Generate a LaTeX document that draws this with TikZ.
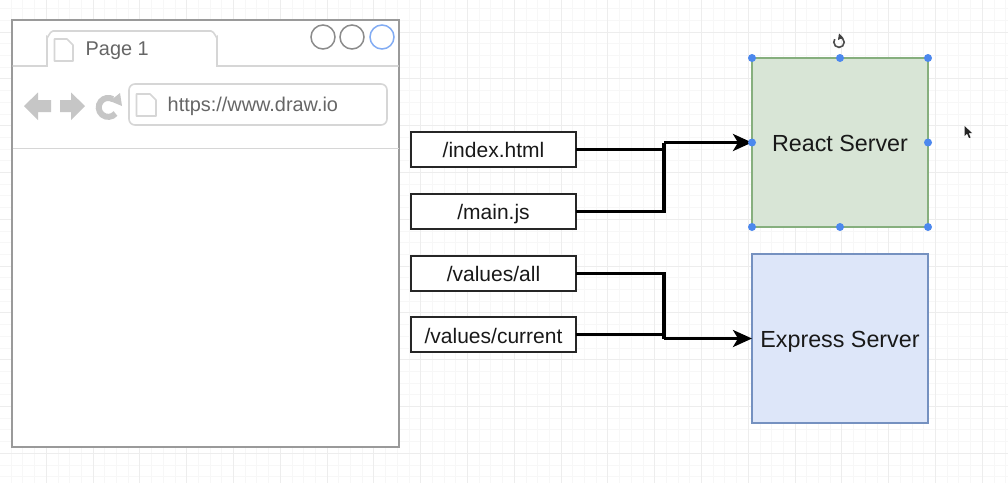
\documentclass[tikz,border=0pt]{standalone}
\usepackage{fontspec}
\setmainfont{Liberation Sans}
\usetikzlibrary{arrows.meta}

\definecolor{gridmajor}{HTML}{EDEDED}
\definecolor{gridminor}{HTML}{F7F7F7}
\definecolor{framegray}{HTML}{9A9A9A}
\definecolor{chromegray}{HTML}{D6D6D6}
\definecolor{icongray}{HTML}{C6C6C6}
\definecolor{labelgray}{HTML}{666666}
\definecolor{handleblue}{HTML}{4C88EE}
\definecolor{reactfill}{HTML}{D8E5D6}
\definecolor{reactline}{HTML}{86AF7E}
\definecolor{expressfill}{HTML}{DDE6F9}
\definecolor{expressline}{HTML}{7591C0}

\tikzset{
  pathbox/.style={draw=black!85,line width=2.4pt,fill=white,minimum width=165pt,minimum height=35pt,
    inner sep=0pt,outer sep=0pt,text height=15pt,text depth=0pt,font=\fontsize{21}{21}\selectfont,text=black!90},
  serverbox/.style={line width=2.4pt,minimum width=176pt,minimum height=169pt,
    inner sep=0pt,outer sep=0pt,text height=17pt,text depth=0pt,font=\fontsize{23.3}{24}\selectfont,text=black!90},
  wire/.style={draw=black,line width=3.2pt},
  chrome/.style={draw=chromegray,line width=1.6pt},
  pageicon/.style={draw=chromegray,line width=1.6pt,fill=white,line join=round},
  navicon/.style={fill=icongray,draw=none},
  grayline/.style={font=\fontsize{19.9}{20}\selectfont,text=labelgray,inner sep=0pt},
  handle/.style={fill=handleblue,draw=none}
}

\begin{document}
\begin{tikzpicture}[x=1pt,y=-1pt]
  \useasboundingbox (0,0) rectangle (1008,483);
  \fill[white] (0,0) rectangle (1008,483);

  % paper grid
  \foreach \k in {0,...,86} {
    \draw[gridminor,line width=.8pt] ({-.6+11.7*\k},0) -- ({-.6+11.7*\k},483);
  }
  \foreach \k in {0,...,41} {
    \draw[gridminor,line width=.8pt] (0,{8.6+11.7*\k}) -- (1008,{8.6+11.7*\k});
  }
  \foreach \k in {0,...,21} {
    \draw[gridmajor,line width=.8pt] ({-.6+46.8*\k},0) -- ({-.6+46.8*\k},483);
  }
  \foreach \k in {0,...,9} {
    \draw[gridmajor,line width=.8pt] (0,{32+46.8*\k}) -- (1008,{32+46.8*\k});
  }

  % browser window
  \node[draw=framegray,line width=1.8pt,fill=white,minimum width=387pt,minimum height=427pt,
    inner sep=0pt,outer sep=0pt] (browser) at (205.5,233.5) {};
  \draw[chrome] (12.5,66) -- (47,66) -- (47,37) to[out=-90,in=180] (53,31) -- (211,31)
    to[out=0,in=-90] (217,37) -- (217,66) -- (398.5,66);
  \draw[chrome] (12.5,148.5) -- (398.5,148.5);
  \draw[pageicon] (54.5,39) -- (67,39) -- (73,45) -- (73,61) -- (54.5,61) -- cycle;
  \node[grayline,anchor=west] (tabtext) at (85.5,50.5) {Page 1};

  \draw[draw=framegray!90!black,line width=1.5pt] (323,37) circle (12);
  \draw[draw=framegray!90!black,line width=1.5pt] (352,37) circle (12);
  \draw[draw=handleblue!70!white,line width=1.5pt] (382,37) circle (12);

  % back, forward, reload
  \fill[navicon] (24,106) -- (38,92.5) -- (38,100) -- (51,100) -- (51,112) -- (38,112) -- (38,120) -- cycle;
  \fill[navicon] (85,106) -- (71,92.5) -- (71,100) -- (60,100) -- (60,112) -- (71,112) -- (71,120) -- cycle;
  \draw[icongray,line width=6pt] (115.5,113.5) arc (40:300:9.5);
  \fill[navicon] (110,101) -- (120,93) -- (122,106) -- cycle;

  \node[draw=chromegray,line width=1.6pt,fill=white,rounded corners=6pt,minimum width=258pt,
    minimum height=41pt,inner sep=0pt,outer sep=0pt] (urlbar) at (258,104.5) {};
  \draw[pageicon] (136.5,94) -- (150,94) -- (156,100) -- (156,116) -- (136.5,116) -- cycle;
  \node[grayline,anchor=west] (urltext) at (167.5,106.5) {https://www.draw.io};

  % requests
  \node[pathbox] (index) at (493.5,149.5) {/index.html};
  \node[pathbox] (mainjs) at (493.5,211.5) {/main.js};
  \node[pathbox] (valall) at (493.5,273.5) {/values/all};
  \node[pathbox] (valcur) at (493.5,334.5) {\raisebox{-1.5pt}{/values/current}};

  % servers
  \node[serverbox,draw=reactline,fill=reactfill] (react) at (840,142.5) {React Server};
  \node[serverbox,draw=expressline,fill=expressfill] (express) at (840,338.5) {Express Server};

  \coordinate (reactjoin) at (664,142.5);
  \coordinate (expressjoin) at (664,338.5);
  \draw[wire] (index.east) -| (reactjoin);
  \draw[wire] (mainjs.east) -| (reactjoin);
  \draw[wire,-{Stealth[length=19pt,width=17pt,inset=5pt]}] (reactjoin) -- (react.west);
  \draw[wire] (valall.east) -| (expressjoin);
  \draw[wire] (valcur.east) -| (expressjoin);
  \draw[wire,-{Stealth[length=19pt,width=17pt,inset=5pt]}] (expressjoin) -- (express.west);

  % selection handles
  \foreach \a in {north west,north,north east,west,east,south west,south,south east} {
    \fill[handle] (react.\a) circle (4);
  }
  \draw[black!70,line width=1.6pt] (839,37) arc (-90:215:5.2);
  \fill[black!75] (839,33.5) -- (843,37.5) -- (838,40) -- cycle;
  \fill[black!85] (964.5,126) -- (964.5,136) -- (967,133.5) -- (969,138) -- (970.5,137.5) -- (968.7,133) -- (972,133) -- cycle;
\end{tikzpicture}
\end{document}
